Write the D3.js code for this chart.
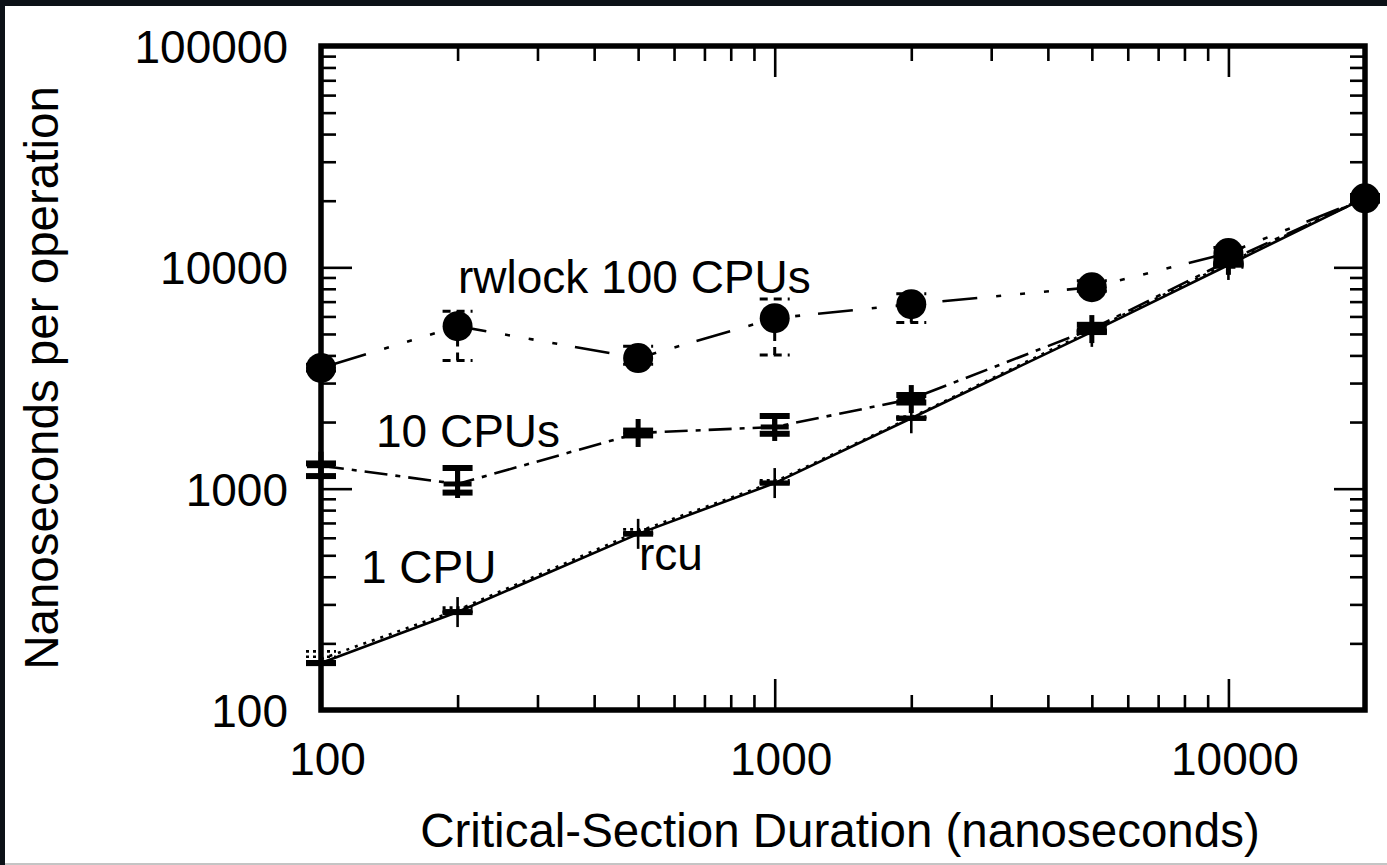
<!DOCTYPE html>
<html>
<head>
<meta charset="utf-8">
<script src="https://cdn.jsdelivr.net/npm/d3@7/dist/d3.min.js"></script>
<style>
	body { margin: 0; background: #0c1117; overflow: hidden; }
	svg { display: block; }
	text { font-family: "Liberation Sans", Arial, Helvetica, sans-serif; fill: #000; }
</style>
</head>
<body>
<div id="chart-1"></div>
<script>
//Critical-section duration (x values), nanoseconds
const durations = [100, 200, 500, 1000, 2000, 5000, 10000, 20000];

//rwlock, 100 CPUs
const rwlock100 = [3510, 5420, 3890, 5890, 6810, 8130, 11600, 20500];
const rwlock100Low = [3400, 3790, 3650, 4020, 5640, 7800, 10000, 20000];
const rwlock100High = [3650, 6330, 4400, 7200, 7600, 8700, 12300, 21000];

//rwlock, 10 CPUs
const rwlock10 = [1270, 1050, 1785, 1900, 2540, 5260, 10700, 20500];
const rwlock10Low = [1140, 960, 1740, 1770, 2450, 5100, 10400, 20000];
const rwlock10High = [1300, 1240, 1830, 2130, 2650, 5500, 11000, 21000];

//rwlock, 1 CPU
const rwlock1 = [163, 277, 625, 1060, 2080, 5110, 10250, 20600];
const rwlock1Low = [160, 272, 615, 1045, 2050, 5050, 10100, 20300];
const rwlock1High = [166, 282, 635, 1075, 2110, 5170, 10400, 20900];

//rcu
const rcu = [170, 283, 640, 1075, 2100, 5200, 10450, 20700];
const rcuLow = [174, 278, 628, 1062, 2085, 5150, 10350, 20500];
const rcuHigh = [184, 290, 655, 1090, 2115, 5260, 10550, 20900];

//Axis ticks
const xMajor = [100, 1000, 10000];
const xMinor = [200, 300, 400, 500, 600, 700, 800, 900, 2000, 3000, 4000, 5000, 6000, 7000, 8000, 9000];
const yMajor = [100, 1000, 10000, 100000];
const yMinor = [200, 300, 400, 500, 600, 700, 800, 900, 2000, 3000, 4000, 5000, 6000, 7000, 8000, 9000,
	20000, 30000, 40000, 50000, 60000, 70000, 80000, 90000];

//Text
const xTitle = 'Critical-Section Duration (nanoseconds)';
const yTitle = 'Nanoseconds per operation';
const annotations = [
	{text: 'rwlock 100 CPUs', x: 458, y: 293},
	{text: '10 CPUs', x: 376, y: 447},
	{text: '1 CPU', x: 361, y: 583},
	{text: 'rcu', x: 639, y: 570}
];

renderChart(document.getElementById('chart-1'));

function renderChart(dom){

	//Append DOM
	const w = 1387;
	const h = 865;
	const plot = d3.select(dom).append('svg')
		.attr('width', w)
		.attr('height', h);

	//Page background: dark edge, white sheet, grey rule at the bottom
	plot.append('rect').attr('width', w).attr('height', h).style('fill', '#0c1117');
	plot.append('rect').attr('x', 5).attr('y', 6).attr('width', w - 5).attr('height', h - 6).style('fill', '#fff');
	plot.append('rect').attr('x', 5).attr('y', 863).attr('width', w - 5).attr('height', 2).style('fill', '#c4c4c4');

	const left = 321, right = 1365, top = 46, bottom = 710;

	//Scales
	const x = d3.scaleLog().domain([100, 20000]).range([left, right]);
	const y = d3.scaleLog().domain([100, 100000]).range([bottom, top]);

	//Axes: major & minor ticks pointing inward on all four sides
	const axes = [
		{gen: d3.axisBottom, s: x, tr: `translate(0,${bottom})`, labels: true},
		{gen: d3.axisTop, s: x, tr: `translate(0,${top})`, labels: false},
		{gen: d3.axisLeft, s: y, tr: `translate(${left},0)`, labels: true},
		{gen: d3.axisRight, s: y, tr: `translate(${right},0)`, labels: false}
	];

	axes.forEach(function(a){
		const isX = a.s === x;
		const major = a.gen(a.s)
			.tickValues(isX ? xMajor : yMajor)
			.tickSize(-31)
			.tickPadding(33)
			.tickFormat(a.labels ? d3.format('d') : '');
		const minor = a.gen(a.s)
			.tickValues(isX ? xMinor : yMinor)
			.tickSize(-15)
			.tickFormat('');

		const gMajor = plot.append('g').attr('transform', a.tr).call(major);
		const gMinor = plot.append('g').attr('transform', a.tr).call(minor);

		[gMajor, gMinor].forEach(function(g){
			g.select('.domain').remove();
			g.selectAll('line').style('stroke', '#000').style('stroke-width', '2.6px');
		});

		gMajor.selectAll('text')
			.style('font-size', '46px')
			.style('fill', '#000')
			.attr('font-family', null);

		if(a.labels && isX){
			gMajor.selectAll('text').attr('y', 65).attr('dy', 0).attr('dx', 6);
		}
		if(a.labels && !isX){
			gMajor.selectAll('text').attr('x', 288 - left).attr('dy', '0.36em');
		}
	});

	//Plot frame
	plot.append('rect')
		.attr('x', left)
		.attr('y', top)
		.attr('width', right - left)
		.attr('height', bottom - top)
		.style('fill', 'none')
		.style('stroke', '#000')
		.style('stroke-width', '5.5px');

	//Series
	renderSeries(plot, x, y, rcu, rcuLow, rcuHigh, {
		dash: '3 6', offset: 0, errDash: '3 4', width: 2.6, errWidth: 2.6, marker: 'none'
	});
	renderSeries(plot, x, y, rwlock1, rwlock1Low, rwlock1High, {
		dash: null, offset: 0, errDash: null, width: 2.6, errWidth: 2.6, marker: 'plus', markerSize: 15, markerWidth: 2.6
	});
	renderSeries(plot, x, y, rwlock10, rwlock10Low, rwlock10High, {
		dash: '23 8 5 8', offset: 0, errDash: null, width: 2.6, errWidth: 6, marker: 'plus', markerSize: 14, markerWidth: 5
	});
	renderSeries(plot, x, y, rwlock100, rwlock100Low, rwlock100High, {
		dash: '35 19 5 19 5 19 5 18', offset: -12, errDash: '8 6', width: 2.6, errWidth: 3, marker: 'circle', markerSize: 15
	});

	//In-plot labels
	plot.selectAll('.annotation')
		.data(annotations)
		.enter()
		.append('text')
		.attr('class', 'annotation')
		.attr('x', function(d){ return d.x })
		.attr('y', function(d){ return d.y })
		.style('font-size', '46px')
		.text(function(d){ return d.text });

	//Axis titles
	plot.append('text')
		.attr('x', 840)
		.attr('y', 847)
		.attr('text-anchor', 'middle')
		.style('font-size', '47.5px')
		.text(xTitle);

	plot.append('text')
		.attr('transform', 'translate(58,378) rotate(-90)')
		.attr('text-anchor', 'middle')
		.style('font-size', '47.5px')
		.text(yTitle);
}

function renderSeries(plot, x, y, values, lows, highs, opt){

	const pts = values.map(function(v, i){ return {x: durations[i], y: v, lo: lows[i], hi: highs[i]} });

	//Connecting line
	const lineGenerator = d3.line()
		.x(function(d){ return x(d.x) })
		.y(function(d){ return y(d.y) });

	plot.append('path')
		.datum(pts)
		.attr('d', lineGenerator)
		.style('fill', 'none')
		.style('stroke', '#000')
		.style('stroke-width', opt.width + 'px')
		.style('stroke-dasharray', opt.dash)
		.style('stroke-dashoffset', opt.offset);

	//Error bars
	const bars = plot.append('g').selectAll('g')
		.data(pts)
		.enter()
		.append('g')
		.style('stroke', '#000')
		.style('stroke-dasharray', opt.errDash);

	bars.append('line')
		.attr('x1', function(d){ return x(d.x) })
		.attr('x2', function(d){ return x(d.x) })
		.attr('y1', function(d){ return y(d.lo) })
		.attr('y2', function(d){ return y(d.hi) })
		.style('stroke-width', Math.min(opt.errWidth, 5) + 'px');

	['lo', 'hi'].forEach(function(k){
		bars.append('line')
			.attr('x1', function(d){ return x(d.x) - 15 })
			.attr('x2', function(d){ return x(d.x) + 15 })
			.attr('y1', function(d){ return y(d[k]) })
			.attr('y2', function(d){ return y(d[k]) })
			.style('stroke-width', opt.errWidth + 'px');
	});

	//Point markers
	if(opt.marker === 'circle'){
		plot.append('g').selectAll('circle')
			.data(pts)
			.enter()
			.append('circle')
			.attr('cx', function(d){ return x(d.x) })
			.attr('cy', function(d){ return y(d.y) })
			.attr('r', opt.markerSize)
			.style('fill', '#000');
	}
	if(opt.marker === 'plus'){
		const s = opt.markerSize;
		const g = plot.append('g').selectAll('g')
			.data(pts)
			.enter()
			.append('g')
			.attr('transform', function(d){ return `translate(${x(d.x)},${y(d.y)})` })
			.style('stroke', '#000')
			.style('stroke-width', opt.markerWidth + 'px');
		g.append('line').attr('x1', -s).attr('x2', s).attr('y1', 0).attr('y2', 0);
		g.append('line').attr('x1', 0).attr('x2', 0).attr('y1', -s).attr('y2', s);
	}
}
</script>
</body>
</html>
